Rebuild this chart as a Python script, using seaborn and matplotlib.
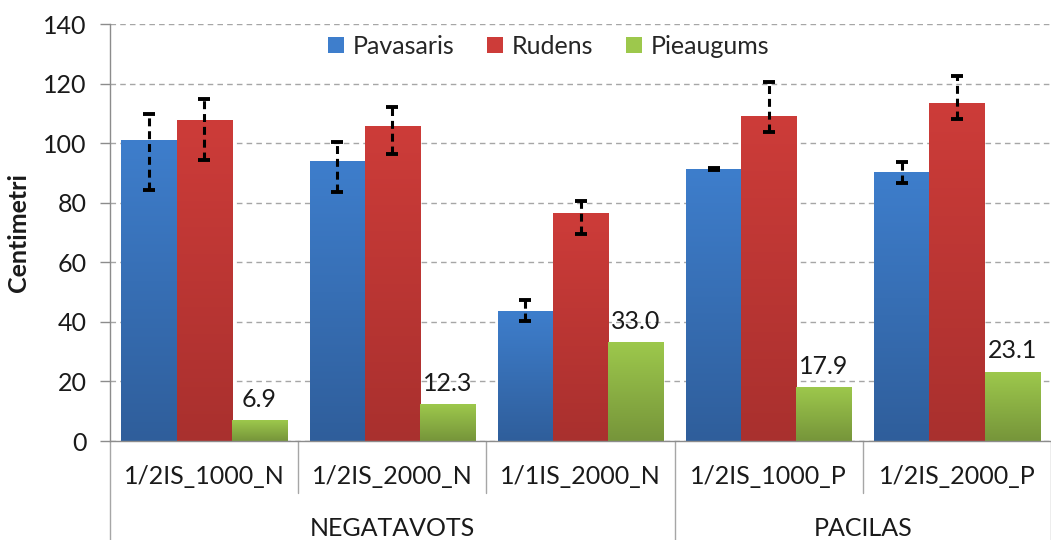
import numpy as np
import pandas as pd
import matplotlib
matplotlib.use('Agg')
import matplotlib.pyplot as plt
import matplotlib.transforms as mtransforms
from matplotlib.colors import LinearSegmentedColormap
import seaborn as sns

# data
categories = ['1/2IS_1000_N', '1/2IS_2000_N', '1/1IS_2000_N', '1/2IS_1000_P', '1/2IS_2000_P']
group_names = ['NEGATAVOTS', 'PACILAS']
group_sizes = [3, 2]
series = ['Pavasaris', 'Rudens', 'Pieaugums']

pavasaris = [100.9, 93.7, 43.4, 91.2, 90.1]
pav_err_plus = [8.8, 6.8, 4.0, 0.3, 3.5]
pav_err_minus = [16.6, 10.0, 3.2, 0.3, 3.4]

rudens = [107.7, 105.7, 76.4, 108.8, 113.2]
rud_err_plus = [7.2, 6.5, 4.1, 11.6, 9.4]
rud_err_minus = [13.4, 9.4, 7.0, 5.2, 5.1]

pieaugums = [6.9, 12.3, 33.0, 17.9, 23.1]

yticks = [0, 20, 40, 60, 80, 100, 120, 140]

# top / bottom colours of the gradient fills
top_colors = ['#3e7ecc', '#cd3c39', '#9dc84c']
bottom_colors = ['#2f5e9b', '#a9302e', '#76953a']

FS = 18

df = pd.DataFrame({
    'cat': categories * 3,
    'series': np.repeat(series, len(categories)),
    'value': pavasaris + rudens + pieaugums,
})

sns.set_style('white')
plt.rcParams['font.family'] = ['Lato', 'DejaVu Sans']

fig = plt.figure(figsize=(10.51, 5.40), dpi=100)
ax = fig.add_axes([0.1047, 0.1833, 0.8953, 0.7722])

sns.barplot(data=df, x='cat', y='value', hue='series', hue_order=series, order=categories,
            palette=top_colors, width=0.88, gap=0, errorbar=None, linewidth=0,
            saturation=1, ax=ax, zorder=2)

# gradient fills on every bar
for i, cont in enumerate(ax.containers):
    cmap = LinearSegmentedColormap.from_list('g%d' % i, [bottom_colors[i], top_colors[i]])
    grad = np.linspace(0, 1, 256).reshape(-1, 1)
    for bar in cont:
        x0, w, h = bar.get_x(), bar.get_width(), bar.get_height()
        ax.imshow(grad, extent=(x0, x0 + w, 0, h), origin='lower', aspect='auto',
                  cmap=cmap, zorder=2.5, interpolation='bicubic')

# error bars (dashed)
err_sets = [(pavasaris, pav_err_minus, pav_err_plus), (rudens, rud_err_minus, rud_err_plus)]
for cont, (vals, emin, eplus) in zip(ax.containers[:2], err_sets):
    xs = [b.get_x() + b.get_width() / 2 for b in cont]
    eb = ax.errorbar(xs, vals, yerr=[emin, eplus], fmt='none', ecolor='black',
                     elinewidth=2.2, capsize=4.5, capthick=2.8, zorder=4)
    eb[2][0].set_linestyle((0, (2.6, 1.6)))

# value labels for the green series
ax.bar_label(ax.containers[2], labels=[f'{v:.1f}' for v in pieaugums],
             padding=7, fontsize=FS, color='#1a1a1a', zorder=5)

ax.set_xlim(-0.5, len(categories) - 0.5)
ax.set_ylim(0, 140)
ax.set_yticks(yticks)
ax.yaxis.grid(True, linestyle=(0, (4, 3)), color='#a6a6a6', linewidth=1)
ax.set_axisbelow(True)
ax.tick_params(axis='y', length=7, width=1, color='#8c8c8c', labelsize=FS, pad=10,
               labelcolor='#1a1a1a', left=True)
ax.set_xticks([])
ax.set_xlabel('')
ax.set_ylabel('Centimetri', fontsize=FS, fontweight='bold', color='#1a1a1a')
ax.yaxis.set_label_coords(-0.085, 0.5)

for s in ['top', 'right']:
    ax.spines[s].set_visible(False)
for s in ['left', 'bottom']:
    ax.spines[s].set_color('#8c8c8c')
    ax.spines[s].set_linewidth(1)

# two-level category axis
blend = mtransforms.blended_transform_factory(ax.transData, ax.transAxes)
for i, c in enumerate(categories):
    ax.text(i, -0.086, c, transform=blend, ha='center', va='center', fontsize=FS,
            color='#1a1a1a')

outer = [-0.5]
start = 0
for name, n in zip(group_names, group_sizes):
    mid = start + (n - 1) / 2
    ax.text(mid, -0.209, name, transform=blend, ha='center', va='center', fontsize=FS,
            color='#1a1a1a')
    start += n
    outer.append(start - 0.5)

for b in np.arange(-0.5, len(categories), 1.0):
    low = -0.24 if b in outer else -0.125
    ax.plot([b, b], [0, low], transform=blend, clip_on=False, color='#a6a6a6', lw=1)

handles, labels = ax.get_legend_handles_labels()
ax.legend(handles, labels, loc='center', bbox_to_anchor=(0.466, 0.947), ncol=3,
          frameon=False, fontsize=FS, handlelength=0.65, handleheight=0.65,
          handletextpad=0.35, columnspacing=1.3)

fig.savefig('out.png', dpi=100)
